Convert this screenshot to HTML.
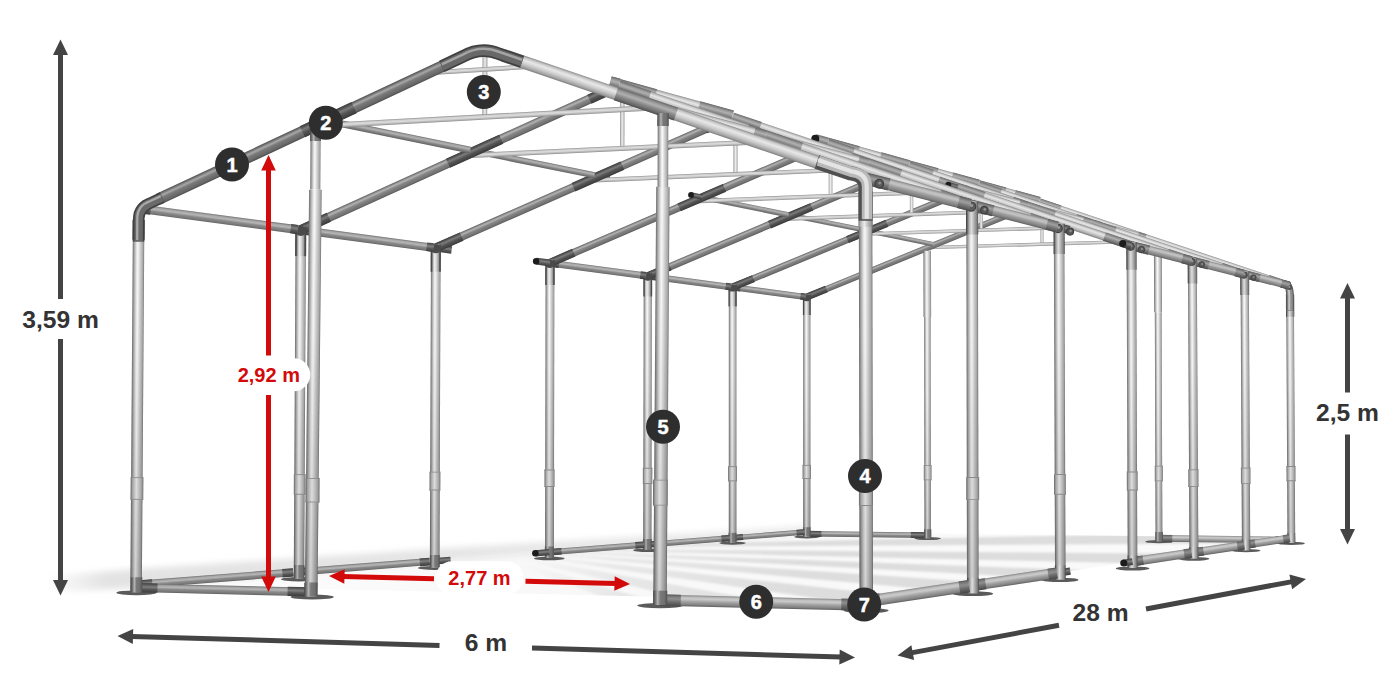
<!DOCTYPE html>
<html><head><meta charset="utf-8"><title>Tent frame dimensions</title>
<style>
html,body{margin:0;padding:0;background:#fff}
body{width:1400px;height:700px;overflow:hidden}
svg{display:block}
text{font-family:"Liberation Sans",sans-serif;font-weight:bold}
</style></head><body>
<svg width="1400" height="700" viewBox="0 0 1400 700">
<defs><linearGradient id="post" x1="0" y1="0" x2="0" y2="1"><stop offset="0" stop-color="#707070"/><stop offset="0.1" stop-color="#a8a8a8"/><stop offset="0.3" stop-color="#cacaca"/><stop offset="0.55" stop-color="#f8f8f8"/><stop offset="0.66" stop-color="#e6e6e6"/><stop offset="0.85" stop-color="#aaaaaa"/><stop offset="1" stop-color="#6c6c6c"/></linearGradient><linearGradient id="postD" x1="0" y1="0" x2="0" y2="1"><stop offset="0" stop-color="#505050"/><stop offset="0.2" stop-color="#707070"/><stop offset="0.5" stop-color="#7a7a7a"/><stop offset="0.68" stop-color="#b4b4b4"/><stop offset="0.82" stop-color="#7c7c7c"/><stop offset="1" stop-color="#454545"/></linearGradient><linearGradient id="shade" x1="0" y1="0" x2="1" y2="0"><stop offset="0" stop-color="#000" stop-opacity="0"/><stop offset="0.35" stop-color="#000" stop-opacity="0.02"/><stop offset="1" stop-color="#000" stop-opacity="0.17"/></linearGradient><linearGradient id="postT" x1="0" y1="0" x2="0" y2="1"><stop offset="0" stop-color="#404040"/><stop offset="0.14" stop-color="#585858"/><stop offset="0.22" stop-color="#9a9a9a"/><stop offset="0.42" stop-color="#d0d0d0"/><stop offset="0.6" stop-color="#f0f0f0"/><stop offset="0.76" stop-color="#bcbcbc"/><stop offset="0.84" stop-color="#707070"/><stop offset="0.9" stop-color="#4c4c4c"/><stop offset="1" stop-color="#3a3a3a"/></linearGradient><linearGradient id="postL" x1="0" y1="0" x2="0" y2="1"><stop offset="0" stop-color="#767676"/><stop offset="0.12" stop-color="#9c9c9c"/><stop offset="0.35" stop-color="#bdbdbd"/><stop offset="0.58" stop-color="#ececec"/><stop offset="0.72" stop-color="#d4d4d4"/><stop offset="0.9" stop-color="#aaaaaa"/><stop offset="1" stop-color="#686868"/></linearGradient><linearGradient id="postM" x1="0" y1="0" x2="0" y2="1"><stop offset="0" stop-color="#4c4c4c"/><stop offset="0.12" stop-color="#828282"/><stop offset="0.3" stop-color="#a6a6a6"/><stop offset="0.56" stop-color="#dedede"/><stop offset="0.7" stop-color="#bcbcbc"/><stop offset="0.84" stop-color="#888888"/><stop offset="0.93" stop-color="#4e4e4e"/><stop offset="1" stop-color="#444444"/></linearGradient><linearGradient id="rafFL" x1="0" y1="0" x2="0" y2="1"><stop offset="0" stop-color="#4e4e4e"/><stop offset="0.15" stop-color="#7c7c7c"/><stop offset="0.3" stop-color="#a8a8a8"/><stop offset="0.5" stop-color="#7a7a7a"/><stop offset="0.85" stop-color="#666666"/><stop offset="1" stop-color="#4a4a4a"/></linearGradient><linearGradient id="sleeve" x1="0" y1="0" x2="0" y2="1"><stop offset="0" stop-color="#787878"/><stop offset="0.12" stop-color="#b0b0b0"/><stop offset="0.3" stop-color="#d0d0d0"/><stop offset="0.55" stop-color="#f6f6f6"/><stop offset="0.85" stop-color="#b8b8b8"/><stop offset="1" stop-color="#707070"/></linearGradient><linearGradient id="raf" x1="0" y1="0" x2="0" y2="1"><stop offset="0" stop-color="#5e5e5e"/><stop offset="0.15" stop-color="#929292"/><stop offset="0.3" stop-color="#b2b2b2"/><stop offset="0.5" stop-color="#868686"/><stop offset="0.85" stop-color="#707070"/><stop offset="1" stop-color="#545454"/></linearGradient><linearGradient id="rafD" x1="0" y1="0" x2="0" y2="1"><stop offset="0" stop-color="#3c3c3c"/><stop offset="0.2" stop-color="#5c5c5c"/><stop offset="0.35" stop-color="#7c7c7c"/><stop offset="0.6" stop-color="#555555"/><stop offset="1" stop-color="#3a3a3a"/></linearGradient><linearGradient id="rafF" x1="0" y1="0" x2="0" y2="1"><stop offset="0" stop-color="#8c8c8c"/><stop offset="0.15" stop-color="#c8c8c8"/><stop offset="0.35" stop-color="#e8e8e8"/><stop offset="0.6" stop-color="#cccccc"/><stop offset="0.85" stop-color="#a4a4a4"/><stop offset="1" stop-color="#7c7c7c"/></linearGradient><linearGradient id="rafR" x1="0" y1="0" x2="0" y2="1"><stop offset="0" stop-color="#8c8c8c"/><stop offset="0.15" stop-color="#c4c4c4"/><stop offset="0.35" stop-color="#e6e6e6"/><stop offset="0.6" stop-color="#cacaca"/><stop offset="0.85" stop-color="#a0a0a0"/><stop offset="1" stop-color="#787878"/></linearGradient><linearGradient id="rafRD" x1="0" y1="0" x2="0" y2="1"><stop offset="0" stop-color="#686868"/><stop offset="0.2" stop-color="#989898"/><stop offset="0.38" stop-color="#b0b0b0"/><stop offset="0.6" stop-color="#8a8a8a"/><stop offset="0.85" stop-color="#6a6a6a"/><stop offset="1" stop-color="#4c4c4c"/></linearGradient><linearGradient id="eaveR" x1="0" y1="0" x2="0" y2="1"><stop offset="0" stop-color="#828282"/><stop offset="0.18" stop-color="#b8b8b8"/><stop offset="0.34" stop-color="#c4c4c4"/><stop offset="0.58" stop-color="#9c9c9c"/><stop offset="0.85" stop-color="#7e7e7e"/><stop offset="1" stop-color="#5e5e5e"/></linearGradient><linearGradient id="eaveRD" x1="0" y1="0" x2="0" y2="1"><stop offset="0" stop-color="#5a5a5a"/><stop offset="0.2" stop-color="#868686"/><stop offset="0.38" stop-color="#a0a0a0"/><stop offset="0.62" stop-color="#7a7a7a"/><stop offset="1" stop-color="#4c4c4c"/></linearGradient><linearGradient id="gbarR" x1="0" y1="0" x2="0" y2="1"><stop offset="0" stop-color="#868686"/><stop offset="0.18" stop-color="#bebebe"/><stop offset="0.34" stop-color="#cacaca"/><stop offset="0.58" stop-color="#a2a2a2"/><stop offset="0.85" stop-color="#828282"/><stop offset="1" stop-color="#5e5e5e"/></linearGradient><linearGradient id="gbarRD" x1="0" y1="0" x2="0" y2="1"><stop offset="0" stop-color="#5a5a5a"/><stop offset="0.2" stop-color="#7e7e7e"/><stop offset="0.38" stop-color="#8e8e8e"/><stop offset="0.62" stop-color="#6e6e6e"/><stop offset="1" stop-color="#484848"/></linearGradient><linearGradient id="bar" x1="0" y1="0" x2="0" y2="1"><stop offset="0" stop-color="#707070"/><stop offset="0.18" stop-color="#a4a4a4"/><stop offset="0.38" stop-color="#b6b6b6"/><stop offset="0.6" stop-color="#8a8a8a"/><stop offset="0.88" stop-color="#767676"/><stop offset="1" stop-color="#5c5c5c"/></linearGradient><linearGradient id="barD" x1="0" y1="0" x2="0" y2="1"><stop offset="0" stop-color="#404040"/><stop offset="0.25" stop-color="#686868"/><stop offset="0.4" stop-color="#808080"/><stop offset="0.65" stop-color="#585858"/><stop offset="1" stop-color="#3c3c3c"/></linearGradient><linearGradient id="pur" x1="0" y1="0" x2="0" y2="1"><stop offset="0" stop-color="#707070"/><stop offset="0.2" stop-color="#a4a4a4"/><stop offset="0.4" stop-color="#b0b0b0"/><stop offset="0.65" stop-color="#888888"/><stop offset="1" stop-color="#626262"/></linearGradient><linearGradient id="thin" x1="0" y1="0" x2="0" y2="1"><stop offset="0" stop-color="#8e8e8e"/><stop offset="0.25" stop-color="#cfcfcf"/><stop offset="0.5" stop-color="#dcdcdc"/><stop offset="0.8" stop-color="#b4b4b4"/><stop offset="1" stop-color="#8a8a8a"/></linearGradient><linearGradient id="thinV" x1="0" y1="0" x2="0" y2="1"><stop offset="0" stop-color="#8e8e8e"/><stop offset="0.25" stop-color="#cfcfcf"/><stop offset="0.5" stop-color="#ececec"/><stop offset="0.8" stop-color="#c4c4c4"/><stop offset="1" stop-color="#8a8a8a"/></linearGradient><filter id="blur" x="-5%" y="-20%" width="110%" height="140%"><feGaussianBlur stdDeviation="3"/></filter><linearGradient id="lshadow" gradientUnits="userSpaceOnUse" x1="45" y1="0" x2="820" y2="0"><stop offset="0" stop-color="#dedede" stop-opacity="0"/><stop offset="0.08" stop-color="#dedede" stop-opacity="0.85"/><stop offset="0.5" stop-color="#e0e0e0" stop-opacity="0.85"/><stop offset="1" stop-color="#e2e2e2" stop-opacity="0.7"/></linearGradient><clipPath id="floorclip"><polygon points="136.4,584.7 866,601.5 1291.4,538 806.9,531.9"/></clipPath><filter id="blur1" x="-5%" y="-5%" width="110%" height="110%"><feGaussianBlur stdDeviation="1.3"/></filter><linearGradient id="stripe" gradientUnits="userSpaceOnUse" x1="520" y1="0" x2="800" y2="0"><stop offset="0" stop-color="#e0e0e0" stop-opacity="0"/><stop offset="0.35" stop-color="#e0e0e0" stop-opacity="0.7"/><stop offset="1" stop-color="#dddddd" stop-opacity="1"/></linearGradient><linearGradient id="floor" x1="0" y1="0" x2="1" y2="0"><stop offset="0" stop-color="#fdfdfd"/><stop offset="0.35" stop-color="#f8f8f8"/><stop offset="1" stop-color="#fafafa"/></linearGradient></defs>
<rect width="1400" height="700" fill="#ffffff"/>
<g id="frame">
<polygon points="136.4,584.7 866,601.5 1291.4,538 806.9,531.9" fill="url(#floor)" opacity="1"/>
<g clip-path="url(#floorclip)"><g filter="url(#blur1)" fill="url(#stripe)"><polygon points="470,548 1400,528.5 1400,542.4"/><polygon points="470,548 1400,555.4 1400,569.4"/><polygon points="470,548 1400,581.5 1400,596.4"/><polygon points="470,548 1400,610.3 1400,631.7"/><polygon points="470,548 1400,652.2 1400,682.9"/><polygon points="470,548 1400,715.4 1400,766.5"/><polygon points="470,548 1400,817.7 1400,892.1"/></g></g>
<g filter="url(#blur)"><polygon points="48,592 136,588 300,574 435,562 549,553 648,546 807,534 807,526 648,536 549,542 435,549 300,558 136,569 48,576" fill="url(#lshadow)" opacity="1"/></g>
<ellipse cx="806.9" cy="536.9" rx="12.5" ry="1.5" fill="#5a5a5a"/>
<ellipse cx="927.7" cy="538.6" rx="13.3" ry="1.5" fill="#5a5a5a"/>
<ellipse cx="1159.1" cy="541.7" rx="13.8" ry="1.6" fill="#5a5a5a"/>
<rect x="0" y="-1.5" width="39" height="3" fill="url(#thinV)" transform="translate(1041.9 204.2) rotate(89.8)"/>
<ellipse cx="1291.4" cy="543.4" rx="13.4" ry="1.6" fill="#5a5a5a"/>
<rect x="0" y="-2.7" width="120.8" height="5.4" fill="url(#bar)" transform="translate(806.9 533.8) rotate(0.7)"/><rect x="0" y="-3" width="14.5" height="6" fill="url(#barD)" transform="translate(806.9 533.8) rotate(0.7)"/><rect x="0" y="-3" width="16.9" height="6" fill="url(#barD)" transform="translate(910.8 535.1) rotate(0.7)"/>
<rect x="0" y="-1.4" width="71.7" height="2.9" fill="url(#thin)" transform="translate(1003.9 216.5) rotate(-2)"/>
<rect x="0" y="-1.7" width="228.3" height="3.3" fill="url(#thin)" transform="translate(927.4 247.7) rotate(-1.7)"/>
<rect x="0" y="-3.3" width="132.3" height="6.6" fill="url(#gbarR)" transform="translate(1159.1 538.4) rotate(0.7)"/><rect x="0" y="-3.6" width="13.2" height="7.2" fill="url(#gbarRD)" transform="translate(1159.1 538.4) rotate(0.7)"/><rect x="0" y="-3.6" width="15.9" height="7.2" fill="url(#gbarRD)" transform="translate(1275.5 539.9) rotate(0.7)"/>
<rect x="0" y="-3.2" width="251.4" height="6.3" fill="url(#raf)" transform="translate(806.8 297.1) rotate(-22.2)"/><rect x="0" y="-3.5" width="21.2" height="6.9" fill="url(#rafD)" transform="translate(806.8 297.1) rotate(-22.2)"/><rect x="0" y="-3.5" width="21.9" height="6.9" fill="url(#rafD)" transform="translate(1019.2 210.2) rotate(-22.2)"/>
<rect x="0" y="-3.3" width="264.2" height="6.6" fill="url(#rafR)" transform="translate(1039.5 201.9) rotate(18.5)"/><rect x="0" y="-3.6" width="21.9" height="7.2" fill="url(#rafRD)" transform="translate(1039.5 201.9) rotate(18.5)"/><rect x="0" y="-3.6" width="22.7" height="7.2" fill="url(#rafRD)" transform="translate(1268.5 278.5) rotate(18.5)"/>
<rect x="0" y="-3.6" width="242.2" height="7.2" fill="url(#post)" transform="translate(806.8 294.5) rotate(90)"/><rect x="0" y="-3.6" width="242.2" height="7.2" fill="url(#shade)" transform="translate(806.8 294.5) rotate(90)"/><rect x="0" y="-3.9" width="20.5" height="7.8" fill="url(#postT)" transform="translate(806.8 294.5) rotate(90)"/>
<rect x="0" y="-3.6" width="9.4" height="7.2" fill="url(#postD)" transform="translate(806.9 527.2) rotate(90)"/>
<rect x="0" y="-3.8" width="248.5" height="7.7" fill="url(#post)" transform="translate(1290.1 294.6) rotate(89.7)"/><rect x="0" y="-3.8" width="248.5" height="7.7" fill="url(#shade)" transform="translate(1290.1 294.6) rotate(89.7)"/><rect x="0" y="-4.1" width="22.1" height="8.3" fill="url(#postM)" transform="translate(1290.1 294.6) rotate(89.7)"/>
<rect x="0" y="-3.9" width="10.1" height="7.7" fill="url(#postM)" transform="translate(1291.3 533) rotate(89.7)"/>
<ellipse cx="806.8" cy="297.7" rx="4" ry="3.5" fill="#4a4a4a"/>
<g transform="translate(806.8 464.9) rotate(90)"><rect x="0" y="-4.2" width="14.1" height="8.4" fill="url(#sleeve)"/><rect x="0" y="-4.2" width="14.1" height="8.4" fill="#000" opacity="0.1"/><rect x="0" y="-4.2" width="0.9" height="8.4" fill="#8a8a8a"/><rect x="13.2" y="-4.2" width="0.9" height="8.4" fill="#8a8a8a"/></g>
<g transform="translate(1291 466) rotate(89.7)"><rect x="0" y="-4.4" width="15.2" height="8.9" fill="url(#sleeve)"/><rect x="0" y="-4.4" width="15.2" height="8.9" fill="#000" opacity="0.1"/><rect x="0" y="-4.4" width="0.9" height="8.9" fill="#8a8a8a"/><rect x="14.3" y="-4.4" width="0.9" height="8.9" fill="#8a8a8a"/></g>
<rect x="0" y="-3.8" width="66.2" height="7.6" fill="url(#post)" transform="translate(927.2 250.7) rotate(89.9)"/>
<rect x="0" y="-3.3" width="221.3" height="6.5" fill="url(#post)" transform="translate(927.3 316.9) rotate(89.9)"/><rect x="0" y="-3.3" width="221.3" height="6.5" fill="url(#shade)" transform="translate(927.3 316.9) rotate(89.9)"/><rect x="0" y="-3.6" width="8.9" height="7.1" fill="url(#postD)" transform="translate(927.7 529.3) rotate(89.9)"/>
<rect x="0" y="-3.9" width="67.8" height="7.9" fill="url(#post)" transform="translate(1157.9 244.5) rotate(89.8)"/>
<rect x="0" y="-3.4" width="229" height="6.8" fill="url(#post)" transform="translate(1158.2 312.3) rotate(89.8)"/><rect x="0" y="-3.4" width="229" height="6.8" fill="url(#shade)" transform="translate(1158.2 312.3) rotate(89.8)"/><rect x="0" y="-3.7" width="9.2" height="7.4" fill="url(#postD)" transform="translate(1159.1 532.1) rotate(89.8)"/>
<g transform="translate(927.6 465.2) rotate(89.9)"><rect x="0" y="-3.9" width="15.1" height="7.7" fill="url(#sleeve)"/><rect x="0" y="-3.9" width="15.1" height="7.7" fill="#000" opacity="0.1"/><rect x="0" y="-3.9" width="0.9" height="7.7" fill="#8a8a8a"/><rect x="14.2" y="-3.9" width="0.9" height="7.7" fill="#8a8a8a"/></g>
<g transform="translate(1158.8 465.7) rotate(89.8)"><rect x="0" y="-4" width="15.6" height="8" fill="url(#sleeve)"/><rect x="0" y="-4" width="15.6" height="8" fill="#000" opacity="0.1"/><rect x="0" y="-4" width="0.9" height="8" fill="#8a8a8a"/><rect x="14.7" y="-4" width="0.9" height="8" fill="#8a8a8a"/></g>
<path d="M1280.6 283.4 L1285.8 284.7 Q1290 284.8 1290.1 297.1 L1290.1 310.9" fill="none" stroke="#5a5a5a" stroke-width="7.7" stroke-linejoin="round" transform="translate(0 0)"/><path d="M1280.6 283.4 L1285.8 284.7 Q1290 284.8 1290.1 297.1 L1290.1 310.9" fill="none" stroke="#8e8e8e" stroke-width="5.4" stroke-linejoin="round" transform="translate(0 0)"/><path d="M1280.6 283.4 L1285.8 284.7 Q1290 284.8 1290.1 297.1 L1290.1 310.9" fill="none" stroke="#c4c4c4" stroke-width="1.9" stroke-linejoin="round" transform="translate(-0.8 -0.8)"/>
<circle cx="1289.5" cy="287.3" r="2.6" fill="#505050"/><circle cx="1289.5" cy="287" r="0.9" fill="#9a9a9a"/>
<rect x="0" y="-3" width="73.4" height="6" fill="url(#bar)" transform="translate(732.6 287.2) rotate(7.6)"/><rect x="0" y="-3.3" width="8" height="6.6" fill="url(#barD)" transform="translate(732.6 287.2) rotate(7.6)"/><rect x="0" y="-3.3" width="5" height="6.6" fill="url(#barD)" transform="translate(800.4 296.2) rotate(7.6)"/>
<rect x="0" y="-2.6" width="71.8" height="5.3" fill="url(#bar)" transform="translate(732.5 537.8) rotate(-4.5)"/><rect x="0" y="-2.9" width="10.6" height="5.9" fill="url(#barD)" transform="translate(732.5 537.8) rotate(-4.5)"/><rect x="0" y="-2.9" width="7.5" height="5.9" fill="url(#barD)" transform="translate(796.6 532.7) rotate(-4.5)"/>
<rect x="0" y="-2.3" width="66.1" height="4.6" fill="url(#pur)" transform="translate(868.2 231) rotate(11.5)"/>
<rect x="0" y="-3.8" width="63.1" height="7.7" fill="url(#rafR)" transform="translate(978.7 184.1) rotate(15.5)"/><rect x="0" y="-4.1" width="27.5" height="8.3" fill="url(#rafRD)" transform="translate(978.7 184.1) rotate(15.5)"/><rect x="0" y="-4.1" width="25.8" height="8.3" fill="url(#rafRD)" transform="translate(1014.7 194.1) rotate(15.5)"/>
<rect x="0" y="-3.2" width="54.4" height="6.4" fill="url(#rafR)" transform="translate(1093.1 223.5) rotate(15)"/><rect x="0" y="-3.5" width="8.4" height="7" fill="url(#rafRD)" transform="translate(1093.1 223.5) rotate(15)"/><rect x="0" y="-3.5" width="7.9" height="7" fill="url(#rafRD)" transform="translate(1138 235.5) rotate(15)"/>
<rect x="0" y="-3.8" width="45.8" height="7.6" fill="url(#eaveR)" transform="translate(1244.7 274.3) rotate(14.2)"/><rect x="0" y="-4.1" width="15.5" height="8.2" fill="url(#eaveRD)" transform="translate(1244.7 274.3) rotate(14.2)"/><rect x="0" y="-4.1" width="8" height="8.2" fill="url(#eaveRD)" transform="translate(1281.4 283.6) rotate(14.2)"/>
<rect x="0" y="-3.8" width="44.1" height="7.6" fill="url(#gbarR)" transform="translate(1246.1 544.8) rotate(-8.5)"/><rect x="0" y="-4.1" width="9.2" height="8.2" fill="url(#gbarRD)" transform="translate(1246.1 544.8) rotate(-8.5)"/><rect x="0" y="-4.1" width="6.4" height="8.2" fill="url(#gbarRD)" transform="translate(1283.3 539.2) rotate(-8.5)"/>
<ellipse cx="732.5" cy="543.1" rx="13.3" ry="1.6" fill="#5a5a5a"/>
<rect x="0" y="-1.6" width="41.7" height="3.2" fill="url(#thinV)" transform="translate(981.2 187.6) rotate(89.9)"/>
<ellipse cx="1246.1" cy="550.6" rx="14.4" ry="1.7" fill="#5a5a5a"/>
<rect x="0" y="-1.8" width="242" height="3.6" fill="url(#thin)" transform="translate(860 234.3) rotate(-1.9)"/>
<rect x="0" y="-3.4" width="266.4" height="6.8" fill="url(#raf)" transform="translate(732.6 287.2) rotate(-22.5)"/><rect x="0" y="-3.7" width="22.6" height="7.4" fill="url(#rafD)" transform="translate(732.6 287.2) rotate(-22.5)"/><rect x="0" y="-3.7" width="23.4" height="7.4" fill="url(#rafD)" transform="translate(957.1 194.1) rotate(-22.5)"/><rect x="0" y="-3.7" width="42.8" height="7.4" fill="url(#rafD)" transform="translate(847.4 239.6) rotate(-22.5)"/>
<rect x="0" y="-3.5" width="280.6" height="7" fill="url(#rafR)" transform="translate(978.7 185.1) rotate(18.5)"/><rect x="0" y="-3.8" width="23.4" height="7.6" fill="url(#rafRD)" transform="translate(978.7 185.1) rotate(18.5)"/><rect x="0" y="-3.8" width="24.4" height="7.6" fill="url(#rafRD)" transform="translate(1221.6 266.6) rotate(18.5)"/><rect x="0" y="-3.8" width="41.3" height="7.6" fill="url(#rafRD)" transform="translate(1076.2 217.8) rotate(18.5)"/>
<rect x="0" y="-3.8" width="258.3" height="7.6" fill="url(#post)" transform="translate(732.6 284.5) rotate(90)"/><rect x="0" y="-3.8" width="258.3" height="7.6" fill="url(#shade)" transform="translate(732.6 284.5) rotate(90)"/><rect x="0" y="-4.1" width="21.9" height="8.2" fill="url(#postT)" transform="translate(732.6 284.5) rotate(90)"/>
<rect x="0" y="-3.8" width="10" height="7.7" fill="url(#postD)" transform="translate(732.5 532.8) rotate(90)"/>
<rect x="0" y="-4.1" width="278.9" height="8.3" fill="url(#post)" transform="translate(1244.7 271.4) rotate(89.7)"/><rect x="0" y="-4.1" width="278.9" height="8.3" fill="url(#shade)" transform="translate(1244.7 271.4) rotate(89.7)"/><rect x="0" y="-4.4" width="23.6" height="8.9" fill="url(#postM)" transform="translate(1244.7 271.4) rotate(89.7)"/>
<rect x="0" y="-4.1" width="10.8" height="8.3" fill="url(#postM)" transform="translate(1246 539.4) rotate(89.7)"/>
<ellipse cx="732.6" cy="287.9" rx="4.2" ry="3.7" fill="#4a4a4a"/>
<g transform="translate(732.5 466.2) rotate(90)"><rect x="0" y="-4.4" width="15.1" height="8.8" fill="url(#sleeve)"/><rect x="0" y="-4.4" width="15.1" height="8.8" fill="#000" opacity="0.1"/><rect x="0" y="-4.4" width="0.9" height="8.8" fill="#8a8a8a"/><rect x="14.2" y="-4.4" width="0.9" height="8.8" fill="#8a8a8a"/></g>
<g transform="translate(1245.7 467.6) rotate(89.7)"><rect x="0" y="-4.7" width="16.2" height="9.5" fill="url(#sleeve)"/><rect x="0" y="-4.7" width="16.2" height="9.5" fill="#000" opacity="0.1"/><rect x="0" y="-4.7" width="0.9" height="9.5" fill="#8a8a8a"/><rect x="15.3" y="-4.7" width="0.9" height="9.5" fill="#8a8a8a"/></g>
<circle cx="1244" cy="275" r="3.3" fill="#5c5c5c" stroke="#404040" stroke-width="0.9"/><circle cx="1244.4" cy="274.3" r="1.1" fill="#9a9a9a"/>
<circle cx="1253.4" cy="277.6" r="2.7" fill="#585858" stroke="#404040" stroke-width="0.9"/><circle cx="1253.8" cy="277.1" r="0.9" fill="#909090"/>
<rect x="0" y="-3.2" width="83.9" height="6.4" fill="url(#bar)" transform="translate(647.8 276) rotate(7.6)"/><rect x="0" y="-3.5" width="8.5" height="7" fill="url(#barD)" transform="translate(647.8 276) rotate(7.6)"/><rect x="0" y="-3.5" width="5.3" height="7" fill="url(#barD)" transform="translate(725.7 286.3) rotate(7.6)"/>
<rect x="0" y="-2.8" width="82.1" height="5.7" fill="url(#bar)" transform="translate(647.5 544.5) rotate(-4.5)"/><rect x="0" y="-3.1" width="11.4" height="6.3" fill="url(#barD)" transform="translate(647.5 544.5) rotate(-4.5)"/><rect x="0" y="-3.1" width="8" height="6.3" fill="url(#barD)" transform="translate(721.4 538.7) rotate(-4.5)"/>
<rect x="0" y="-2.5" width="75.8" height="4.9" fill="url(#pur)" transform="translate(791.4 215.4) rotate(11.5)"/>
<rect x="0" y="-4.1" width="72.5" height="8.2" fill="url(#rafR)" transform="translate(908.8 164.7) rotate(15.5)"/><rect x="0" y="-4.4" width="29.6" height="8.8" fill="url(#rafRD)" transform="translate(908.8 164.7) rotate(15.5)"/><rect x="0" y="-4.4" width="27.5" height="8.8" fill="url(#rafRD)" transform="translate(952.1 176.7) rotate(15.5)"/>
<rect x="0" y="-3.5" width="62.6" height="6.9" fill="url(#rafR)" transform="translate(1030.6 206.8) rotate(15)"/><rect x="0" y="-3.8" width="9" height="7.5" fill="url(#rafRD)" transform="translate(1030.6 206.8) rotate(15)"/><rect x="0" y="-3.8" width="8.4" height="7.5" fill="url(#rafRD)" transform="translate(1083 220.8) rotate(15)"/>
<rect x="0" y="-4.1" width="52.9" height="8.2" fill="url(#eaveR)" transform="translate(1192.5 261.1) rotate(14.2)"/><rect x="0" y="-4.4" width="16.7" height="8.8" fill="url(#eaveRD)" transform="translate(1192.5 261.1) rotate(14.2)"/><rect x="0" y="-4.4" width="8.6" height="8.8" fill="url(#eaveRD)" transform="translate(1235.4 272) rotate(14.2)"/>
<rect x="0" y="-4.1" width="50.9" height="8.2" fill="url(#gbarR)" transform="translate(1193.7 552.6) rotate(-8.5)"/><rect x="0" y="-4.4" width="9.9" height="8.8" fill="url(#gbarRD)" transform="translate(1193.7 552.6) rotate(-8.5)"/><rect x="0" y="-4.4" width="6.9" height="8.8" fill="url(#gbarRD)" transform="translate(1237.3 546.1) rotate(-8.5)"/>
<ellipse cx="647.5" cy="550.2" rx="14.3" ry="1.7" fill="#5a5a5a"/>
<rect x="0" y="-1.7" width="44.8" height="3.4" fill="url(#thinV)" transform="translate(911.5 168.5) rotate(89.9)"/>
<ellipse cx="1193.8" cy="558.8" rx="15.5" ry="1.9" fill="#5a5a5a"/>
<rect x="0" y="-1.9" width="257.3" height="3.8" fill="url(#thin)" transform="translate(782.8 219) rotate(-2)"/>
<rect x="0" y="-3.6" width="283.3" height="7.3" fill="url(#raf)" transform="translate(647.8 276) rotate(-22.9)"/><rect x="0" y="-3.9" width="24.2" height="7.9" fill="url(#rafD)" transform="translate(647.8 276) rotate(-22.9)"/><rect x="0" y="-3.9" width="25.1" height="7.9" fill="url(#rafD)" transform="translate(885.6 175.6) rotate(-22.9)"/><rect x="0" y="-3.9" width="45.9" height="7.9" fill="url(#rafD)" transform="translate(769.4 224.7) rotate(-22.9)"/>
<rect x="0" y="-3.8" width="299.2" height="7.6" fill="url(#rafR)" transform="translate(908.8 165.8) rotate(18.6)"/><rect x="0" y="-4.1" width="25.1" height="8.2" fill="url(#rafRD)" transform="translate(908.8 165.8) rotate(18.6)"/><rect x="0" y="-4.1" width="26.3" height="8.2" fill="url(#rafRD)" transform="translate(1167.6 252.8) rotate(18.6)"/><rect x="0" y="-4.1" width="44.4" height="8.2" fill="url(#rafRD)" transform="translate(1012.6 200.7) rotate(18.6)"/>
<rect x="0" y="-4.1" width="276.8" height="8.2" fill="url(#post)" transform="translate(647.8 273) rotate(90.1)"/><rect x="0" y="-4.1" width="276.8" height="8.2" fill="url(#shade)" transform="translate(647.8 273) rotate(90.1)"/><rect x="0" y="-4.4" width="23.5" height="8.8" fill="url(#postT)" transform="translate(647.8 273) rotate(90.1)"/>
<rect x="0" y="-4.1" width="10.8" height="8.2" fill="url(#postD)" transform="translate(647.5 539.1) rotate(90.1)"/>
<rect x="0" y="-4.4" width="300.5" height="8.9" fill="url(#post)" transform="translate(1192.4 257.9) rotate(89.7)"/><rect x="0" y="-4.4" width="300.5" height="8.9" fill="url(#shade)" transform="translate(1192.4 257.9) rotate(89.7)"/><rect x="0" y="-4.7" width="25.5" height="9.5" fill="url(#postM)" transform="translate(1192.4 257.9) rotate(89.7)"/>
<rect x="0" y="-4.5" width="11.7" height="8.9" fill="url(#postM)" transform="translate(1193.7 546.8) rotate(89.7)"/>
<ellipse cx="647.8" cy="276.7" rx="4.6" ry="4" fill="#4a4a4a"/>
<g transform="translate(647.6 467.8) rotate(90.1)"><rect x="0" y="-4.7" width="16.1" height="9.4" fill="url(#sleeve)"/><rect x="0" y="-4.7" width="16.1" height="9.4" fill="#000" opacity="0.1"/><rect x="0" y="-4.7" width="0.9" height="9.4" fill="#8a8a8a"/><rect x="15.2" y="-4.7" width="0.9" height="9.4" fill="#8a8a8a"/></g>
<g transform="translate(1193.4 469.4) rotate(89.7)"><rect x="0" y="-5" width="17.5" height="10.1" fill="url(#sleeve)"/><rect x="0" y="-5" width="17.5" height="10.1" fill="#000" opacity="0.1"/><rect x="0" y="-5" width="0.9" height="10.1" fill="#8a8a8a"/><rect x="16.6" y="-5" width="0.9" height="10.1" fill="#8a8a8a"/></g>
<circle cx="1191.7" cy="261.9" r="3.6" fill="#5c5c5c" stroke="#404040" stroke-width="0.9"/><circle cx="1192.1" cy="261.1" r="1.2" fill="#9a9a9a"/>
<circle cx="1201.8" cy="264.6" r="2.9" fill="#585858" stroke="#404040" stroke-width="0.9"/><circle cx="1202.2" cy="264.1" r="1" fill="#909090"/>
<rect x="0" y="-3.4" width="96.9" height="6.9" fill="url(#bar)" transform="translate(549.9 263) rotate(7.6)"/><rect x="0" y="-3.7" width="9.2" height="7.5" fill="url(#barD)" transform="translate(549.9 263) rotate(7.6)"/><rect x="0" y="-3.7" width="5.7" height="7.5" fill="url(#barD)" transform="translate(640.3 275) rotate(7.6)"/>
<rect x="0" y="-3" width="94.8" height="6.1" fill="url(#bar)" transform="translate(549.3 552.2) rotate(-4.5)"/><rect x="0" y="-3.3" width="12.3" height="6.7" fill="url(#barD)" transform="translate(549.3 552.2) rotate(-4.5)"/><rect x="0" y="-3.3" width="8.6" height="6.7" fill="url(#barD)" transform="translate(635.3 545.4) rotate(-4.5)"/>
<rect x="0" y="-2.6" width="87.7" height="5.3" fill="url(#pur)" transform="translate(702.6 197.3) rotate(11.5)"/>
<rect x="0" y="-4.4" width="84.2" height="8.8" fill="url(#rafR)" transform="translate(827.7 142.3) rotate(15.5)"/><rect x="0" y="-4.7" width="32" height="9.4" fill="url(#rafRD)" transform="translate(827.7 142.3) rotate(15.5)"/><rect x="0" y="-4.7" width="29.6" height="9.4" fill="url(#rafRD)" transform="translate(880.3 156.8) rotate(15.5)"/>
<rect x="0" y="-3.7" width="72.9" height="7.5" fill="url(#rafR)" transform="translate(957.9 187.3) rotate(15)"/><rect x="0" y="-4" width="9.8" height="8.1" fill="url(#rafRD)" transform="translate(957.9 187.3) rotate(15)"/><rect x="0" y="-4" width="9.1" height="8.1" fill="url(#rafRD)" transform="translate(1019.5 203.8) rotate(15)"/>
<rect x="0" y="-4.4" width="61.8" height="8.8" fill="url(#eaveR)" transform="translate(1131.4 245.7) rotate(14.2)"/><rect x="0" y="-4.7" width="18.1" height="9.4" fill="url(#eaveRD)" transform="translate(1131.4 245.7) rotate(14.2)"/><rect x="0" y="-4.7" width="9.3" height="9.4" fill="url(#eaveRD)" transform="translate(1182.3 258.6) rotate(14.2)"/>
<rect x="0" y="-4.4" width="59.6" height="8.9" fill="url(#gbarR)" transform="translate(1132.6 561.7) rotate(-8.5)"/><rect x="0" y="-4.7" width="10.7" height="9.5" fill="url(#gbarRD)" transform="translate(1132.6 561.7) rotate(-8.5)"/><rect x="0" y="-4.7" width="7.5" height="9.5" fill="url(#gbarRD)" transform="translate(1184.1 554) rotate(-8.5)"/>
<ellipse cx="549.3" cy="558.4" rx="15.4" ry="1.8" fill="#5a5a5a"/>
<rect x="0" y="-1.8" width="48.4" height="3.7" fill="url(#thinV)" transform="translate(830.6 146.3) rotate(90)"/>
<ellipse cx="1132.6" cy="568.5" rx="16.8" ry="2" fill="#5a5a5a"/>
<rect x="0" y="-2.1" width="274.6" height="4.2" fill="url(#thin)" transform="translate(693.4 201.3) rotate(-2.2)"/>
<rect x="0" y="-3.9" width="302.4" height="7.8" fill="url(#raf)" transform="translate(549.9 263) rotate(-23.3)"/><rect x="0" y="-4.2" width="26" height="8.4" fill="url(#rafD)" transform="translate(549.9 263) rotate(-23.3)"/><rect x="0" y="-4.2" width="27.2" height="8.4" fill="url(#rafD)" transform="translate(802.7 154.2) rotate(-23.3)"/><rect x="0" y="-4.2" width="49.4" height="8.4" fill="url(#rafD)" transform="translate(679.1 207.4) rotate(-23.3)"/>
<rect x="0" y="-4.1" width="320.4" height="8.2" fill="url(#rafR)" transform="translate(827.7 143.5) rotate(18.6)"/><rect x="0" y="-4.4" width="27.2" height="8.8" fill="url(#rafRD)" transform="translate(827.7 143.5) rotate(18.6)"/><rect x="0" y="-4.4" width="28.5" height="8.8" fill="url(#rafRD)" transform="translate(1104.4 236.6) rotate(18.6)"/><rect x="0" y="-4.4" width="47.9" height="8.8" fill="url(#rafRD)" transform="translate(938.6 180.8) rotate(18.6)"/>
<rect x="0" y="-4.4" width="298.2" height="8.8" fill="url(#post)" transform="translate(550 259.8) rotate(90.1)"/><rect x="0" y="-4.4" width="298.2" height="8.8" fill="url(#shade)" transform="translate(550 259.8) rotate(90.1)"/><rect x="0" y="-4.7" width="25.3" height="9.4" fill="url(#postT)" transform="translate(550 259.8) rotate(90.1)"/>
<rect x="0" y="-4.4" width="11.6" height="8.8" fill="url(#postD)" transform="translate(549.3 546.4) rotate(90.1)"/>
<rect x="0" y="-4.8" width="325.8" height="9.6" fill="url(#post)" transform="translate(1131.4 242.2) rotate(89.8)"/><rect x="0" y="-4.8" width="325.8" height="9.6" fill="url(#shade)" transform="translate(1131.4 242.2) rotate(89.8)"/><rect x="0" y="-5.1" width="27.6" height="10.2" fill="url(#postM)" transform="translate(1131.4 242.2) rotate(89.8)"/>
<rect x="0" y="-4.8" width="12.7" height="9.7" fill="url(#postM)" transform="translate(1132.5 555.4) rotate(89.8)"/>
<ellipse cx="549.9" cy="263.8" rx="4.9" ry="4.3" fill="#4a4a4a"/>
<g transform="translate(549.5 469.6) rotate(90.1)"><rect x="0" y="-5" width="17.4" height="10" fill="url(#sleeve)"/><rect x="0" y="-5" width="17.4" height="10" fill="#000" opacity="0.1"/><rect x="0" y="-5" width="0.9" height="10" fill="#8a8a8a"/><rect x="16.5" y="-5" width="0.9" height="10" fill="#8a8a8a"/></g>
<g transform="translate(1132.2 471.5) rotate(89.8)"><rect x="0" y="-5.4" width="19" height="10.8" fill="url(#sleeve)"/><rect x="0" y="-5.4" width="19" height="10.8" fill="#000" opacity="0.1"/><rect x="0" y="-5.4" width="0.9" height="10.8" fill="#8a8a8a"/><rect x="18.1" y="-5.4" width="0.9" height="10.8" fill="#8a8a8a"/></g>
<circle cx="1130.5" cy="246.5" r="3.9" fill="#5c5c5c" stroke="#404040" stroke-width="1"/><circle cx="1131" cy="245.7" r="1.3" fill="#9a9a9a"/>
<circle cx="1141.5" cy="249.5" r="3.2" fill="#585858" stroke="#404040" stroke-width="1"/><circle cx="1141.9" cy="248.9" r="1.1" fill="#909090"/>
<rect x="0" y="-3.5" width="14" height="6.9" fill="url(#barD)" transform="translate(536.1 261.2) rotate(7.6)"/>
<rect x="0" y="-3.1" width="13.9" height="6.2" fill="url(#barD)" transform="translate(535.4 553.3) rotate(-4.5)"/>
<rect x="0" y="-2.6" width="11.8" height="5.1" fill="url(#barD)" transform="translate(691 194.9) rotate(11.5)"/>
<circle cx="536.1" cy="261.2" r="3.2" fill="#1c1c1c"/>
<circle cx="535.4" cy="553.3" r="3.3" fill="#1c1c1c"/>
<rect x="0" y="-4.6" width="12.9" height="9.2" fill="url(#rafRD)" transform="translate(815.3 138.8) rotate(15.5)"/>
<circle cx="691" cy="194.9" r="2.9" fill="#1c1c1c"/>
<rect x="0" y="-2.7" width="9.9" height="5.3" fill="url(#barD)" transform="translate(948.3 184.7) rotate(15)"/>
<rect x="0" y="-3.7" width="16" height="7.4" fill="url(#barD)" transform="translate(435.8 247.9) rotate(7.6)"/>
<rect x="0" y="-3.3" width="16" height="6.6" fill="url(#barD)" transform="translate(434.7 561.2) rotate(-4.5)"/>
<circle cx="815.3" cy="138.8" r="4" fill="#1c1c1c"/>
<rect x="0" y="-3.8" width="9" height="7.6" fill="url(#barD)" transform="translate(1122.7 243.5) rotate(14.2)"/>
<rect x="0" y="-3.4" width="8.8" height="6.8" fill="url(#barD)" transform="translate(1123.8 563) rotate(-8.5)"/>
<rect x="0" y="-2.8" width="11.4" height="5.5" fill="url(#barD)" transform="translate(598.5 176.2) rotate(11.5)"/>
<circle cx="948.3" cy="184.7" r="3" fill="#1c1c1c"/>
<circle cx="1122.7" cy="243.5" r="3.6" fill="#1c1c1c"/>
<circle cx="1123.8" cy="563" r="3.6" fill="#1c1c1c"/>
<rect x="0" y="-2.9" width="9.6" height="5.7" fill="url(#barD)" transform="translate(872.1 164.3) rotate(15)"/>
<rect x="0" y="-4.1" width="10.5" height="8.2" fill="url(#barD)" transform="translate(1059.1 227.4) rotate(14.2)"/>
<rect x="0" y="-3.6" width="10.3" height="7.3" fill="url(#barD)" transform="translate(1060.1 572.6) rotate(-8.5)"/>
<ellipse cx="434.7" cy="567.9" rx="16.7" ry="2" fill="#5a5a5a"/>
<rect x="0" y="-2" width="52.6" height="4" fill="url(#thinV)" transform="translate(735.5 120.3) rotate(90)"/>
<ellipse cx="1060.1" cy="579.9" rx="18.3" ry="2.2" fill="#5a5a5a"/>
<rect x="0" y="-2.3" width="294.3" height="4.5" fill="url(#thin)" transform="translate(588.7 180.5) rotate(-2.4)"/>
<rect x="0" y="-4.2" width="324.2" height="8.5" fill="url(#raf)" transform="translate(435.8 247.9) rotate(-23.8)"/><rect x="0" y="-4.5" width="28.2" height="9.1" fill="url(#rafD)" transform="translate(435.8 247.9) rotate(-23.8)"/><rect x="0" y="-4.5" width="29.5" height="9.1" fill="url(#rafD)" transform="translate(705.4 129.1) rotate(-23.8)"/><rect x="0" y="-4.5" width="53.5" height="9.1" fill="url(#rafD)" transform="translate(573.4 187.2) rotate(-23.8)"/>
<rect x="0" y="-4.5" width="344.7" height="8.9" fill="url(#rafR)" transform="translate(732.4 117.2) rotate(18.7)"/><rect x="0" y="-4.8" width="29.5" height="9.5" fill="url(#rafRD)" transform="translate(732.4 117.2) rotate(18.7)"/><rect x="0" y="-4.8" width="31.1" height="9.5" fill="url(#rafRD)" transform="translate(1029.6 217.5) rotate(18.7)"/><rect x="0" y="-4.8" width="52.1" height="9.5" fill="url(#rafRD)" transform="translate(851.4 157.3) rotate(18.7)"/>
<rect x="0" y="-4.8" width="323.1" height="9.6" fill="url(#post)" transform="translate(435.8 244.4) rotate(90.2)"/><rect x="0" y="-4.8" width="323.1" height="9.6" fill="url(#shade)" transform="translate(435.8 244.4) rotate(90.2)"/><rect x="0" y="-5.1" width="27.4" height="10.2" fill="url(#postT)" transform="translate(435.8 244.4) rotate(90.2)"/>
<rect x="0" y="-4.8" width="12.6" height="9.6" fill="url(#postD)" transform="translate(434.8 554.9) rotate(90.2)"/>
<rect x="0" y="-5.3" width="355.8" height="10.5" fill="url(#post)" transform="translate(1059 223.7) rotate(89.8)"/><rect x="0" y="-5.3" width="355.8" height="10.5" fill="url(#shade)" transform="translate(1059 223.7) rotate(89.8)"/><rect x="0" y="-5.6" width="30.2" height="11.1" fill="url(#postM)" transform="translate(1059 223.7) rotate(89.8)"/>
<rect x="0" y="-5.3" width="13.9" height="10.5" fill="url(#postM)" transform="translate(1060.1 565.6) rotate(89.8)"/>
<ellipse cx="435.8" cy="248.7" rx="5.3" ry="4.6" fill="#4a4a4a"/>
<g transform="translate(435 471.7) rotate(90.2)"><rect x="0" y="-5.4" width="18.8" height="10.8" fill="url(#sleeve)"/><rect x="0" y="-5.4" width="18.8" height="10.8" fill="#000" opacity="0.1"/><rect x="0" y="-5.4" width="0.9" height="10.8" fill="#8a8a8a"/><rect x="17.9" y="-5.4" width="0.9" height="10.8" fill="#8a8a8a"/></g>
<g transform="translate(1059.8 474) rotate(89.8)"><rect x="0" y="-5.9" width="20.7" height="11.7" fill="url(#sleeve)"/><rect x="0" y="-5.9" width="20.7" height="11.7" fill="#000" opacity="0.1"/><rect x="0" y="-5.9" width="0.9" height="11.7" fill="#8a8a8a"/><rect x="19.8" y="-5.9" width="0.9" height="11.7" fill="#8a8a8a"/></g>
<circle cx="1058.1" cy="228.4" r="4.2" fill="#5c5c5c" stroke="#404040" stroke-width="1.1"/><circle cx="1058.6" cy="227.4" r="1.5" fill="#9a9a9a"/>
<circle cx="1070.1" cy="231.6" r="3.5" fill="#585858" stroke="#404040" stroke-width="1.1"/><circle cx="1070.6" cy="231" r="1.2" fill="#909090"/>
<rect x="0" y="-4" width="133.6" height="8.1" fill="url(#bar)" transform="translate(300.8 230) rotate(7.6)"/><rect x="0" y="-4.3" width="10.9" height="8.7" fill="url(#barD)" transform="translate(300.8 230) rotate(7.6)"/><rect x="0" y="-4.3" width="6.7" height="8.7" fill="url(#barD)" transform="translate(426.7 246.7) rotate(7.6)"/>
<rect x="0" y="-3.6" width="130.9" height="7.1" fill="url(#bar)" transform="translate(299.2 571.9) rotate(-4.5)"/><rect x="0" y="-3.9" width="14.5" height="7.7" fill="url(#barD)" transform="translate(299.2 571.9) rotate(-4.5)"/><rect x="0" y="-3.9" width="10" height="7.7" fill="url(#barD)" transform="translate(419.8 562.4) rotate(-4.5)"/>
<rect x="0" y="-3.1" width="122" height="6.2" fill="url(#pur)" transform="translate(475 151) rotate(11.5)"/>
<rect x="0" y="-5.2" width="117.8" height="10.4" fill="url(#rafR)" transform="translate(618.9 84.4) rotate(15.5)"/><rect x="0" y="-5.5" width="38.1" height="11" fill="url(#rafRD)" transform="translate(618.9 84.4) rotate(15.5)"/><rect x="0" y="-5.5" width="34.8" height="11" fill="url(#rafRD)" transform="translate(698.9 106.6) rotate(15.5)"/>
<rect x="0" y="-4.4" width="102.8" height="8.8" fill="url(#rafR)" transform="translate(769.5 136.9) rotate(15)"/><rect x="0" y="-4.7" width="11.7" height="9.4" fill="url(#rafRD)" transform="translate(769.5 136.9) rotate(15)"/><rect x="0" y="-4.7" width="10.7" height="9.4" fill="url(#rafRD)" transform="translate(858.5 160.7) rotate(15)"/>
<rect x="0" y="-5.3" width="88" height="10.5" fill="url(#eaveR)" transform="translate(972.1 205.5) rotate(14.2)"/><rect x="0" y="-5.6" width="21.7" height="11.1" fill="url(#eaveRD)" transform="translate(972.1 205.5) rotate(14.2)"/><rect x="0" y="-5.6" width="11" height="11.1" fill="url(#eaveRD)" transform="translate(1046.8 224.4) rotate(14.2)"/>
<rect x="0" y="-5.3" width="84.9" height="10.6" fill="url(#gbarR)" transform="translate(972.9 585.6) rotate(-8.5)"/><rect x="0" y="-5.6" width="12.9" height="11.2" fill="url(#gbarRD)" transform="translate(972.9 585.6) rotate(-8.5)"/><rect x="0" y="-5.6" width="8.8" height="11.2" fill="url(#gbarRD)" transform="translate(1048.2 574.3) rotate(-8.5)"/>
<ellipse cx="299.2" cy="579.2" rx="18.2" ry="2.2" fill="#5a5a5a"/>
<rect x="0" y="-2.2" width="57.7" height="4.4" fill="url(#thinV)" transform="translate(622.3 89.2) rotate(90.1)"/>
<ellipse cx="972.9" cy="593.7" rx="20.2" ry="2.4" fill="#5a5a5a"/>
<rect x="0" y="-2.5" width="317" height="5" fill="url(#thin)" transform="translate(464.5 155.8) rotate(-2.7)"/>
<rect x="0" y="-4.6" width="349.3" height="9.3" fill="url(#raf)" transform="translate(300.8 230) rotate(-24.4)"/><rect x="0" y="-4.9" width="30.8" height="9.9" fill="url(#rafD)" transform="translate(300.8 230) rotate(-24.4)"/><rect x="0" y="-4.9" width="32.4" height="9.9" fill="url(#rafD)" transform="translate(589.4 99.2) rotate(-24.4)"/><rect x="0" y="-4.9" width="58.4" height="9.9" fill="url(#rafD)" transform="translate(448 163.3) rotate(-24.4)"/>
<rect x="0" y="-4.9" width="372.9" height="9.8" fill="url(#rafR)" transform="translate(618.9 85.8) rotate(18.7)"/><rect x="0" y="-5.2" width="32.4" height="10.4" fill="url(#rafRD)" transform="translate(618.9 85.8) rotate(18.7)"/><rect x="0" y="-5.2" width="34.2" height="10.4" fill="url(#rafRD)" transform="translate(939.7 194.5) rotate(18.7)"/><rect x="0" y="-5.2" width="57.1" height="10.4" fill="url(#rafRD)" transform="translate(747.3 129.3) rotate(18.7)"/>
<rect x="0" y="-5.2" width="352.5" height="10.4" fill="url(#post)" transform="translate(300.8 226.2) rotate(90.3)"/><rect x="0" y="-5.2" width="352.5" height="10.4" fill="url(#shade)" transform="translate(300.8 226.2) rotate(90.3)"/><rect x="0" y="-5.5" width="29.9" height="11" fill="url(#postT)" transform="translate(300.8 226.2) rotate(90.3)"/>
<rect x="0" y="-5.2" width="13.7" height="10.4" fill="url(#postD)" transform="translate(299.2 565) rotate(90.3)"/>
<rect x="0" y="-5.8" width="391.9" height="11.6" fill="url(#post)" transform="translate(972.1 201.3) rotate(89.9)"/><rect x="0" y="-5.8" width="391.9" height="11.6" fill="url(#shade)" transform="translate(972.1 201.3) rotate(89.9)"/><rect x="0" y="-6.1" width="33.2" height="12.2" fill="url(#postM)" transform="translate(972.1 201.3) rotate(89.9)"/>
<rect x="0" y="-5.8" width="15.3" height="11.6" fill="url(#postM)" transform="translate(972.9 577.9) rotate(89.9)"/>
<ellipse cx="300.8" cy="230.9" rx="5.8" ry="5.1" fill="#4a4a4a"/>
<g transform="translate(299.7 474.2) rotate(90.3)"><rect x="0" y="-5.8" width="20.5" height="11.6" fill="url(#sleeve)"/><rect x="0" y="-5.8" width="20.5" height="11.6" fill="#000" opacity="0.1"/><rect x="0" y="-5.8" width="0.9" height="11.6" fill="#8a8a8a"/><rect x="19.6" y="-5.8" width="0.9" height="11.6" fill="#8a8a8a"/></g>
<g transform="translate(972.7 477) rotate(89.9)"><rect x="0" y="-6.4" width="22.8" height="12.8" fill="url(#sleeve)"/><rect x="0" y="-6.4" width="22.8" height="12.8" fill="#000" opacity="0.1"/><rect x="0" y="-6.4" width="0.9" height="12.8" fill="#8a8a8a"/><rect x="21.9" y="-6.4" width="0.9" height="12.8" fill="#8a8a8a"/></g>
<circle cx="971.1" cy="206.5" r="4.6" fill="#5c5c5c" stroke="#404040" stroke-width="1.2"/><circle cx="971.6" cy="205.5" r="1.6" fill="#9a9a9a"/>
<circle cx="984.3" cy="210.1" r="3.8" fill="#585858" stroke="#404040" stroke-width="1.2"/><circle cx="984.8" cy="209.4" r="1.3" fill="#909090"/>
<rect x="0" y="-4.4" width="160.4" height="8.8" fill="url(#bar)" transform="translate(138.8 208.5) rotate(7.6)"/><rect x="0" y="-4.7" width="12" height="9.4" fill="url(#barD)" transform="translate(138.8 208.5) rotate(7.6)"/><rect x="0" y="-4.7" width="7.3" height="9.4" fill="url(#barD)" transform="translate(290.7 228.6) rotate(7.6)"/>
<rect x="0" y="-5.5" width="9.1" height="11" fill="url(#rafR)" transform="translate(610.2 82) rotate(15.5)"/><rect x="0" y="-5.8" width="9.1" height="11.6" fill="url(#rafRD)" transform="translate(610.2 82) rotate(15.5)"/><rect x="0" y="-5.8" width="9.1" height="11.6" fill="url(#rafRD)" transform="translate(610.2 82) rotate(15.5)"/>
<rect x="0" y="-3.9" width="157.3" height="7.8" fill="url(#bar)" transform="translate(136.4 584.7) rotate(-4.5)"/><rect x="0" y="-4.2" width="16" height="8.4" fill="url(#barD)" transform="translate(136.4 584.7) rotate(-4.5)"/><rect x="0" y="-4.2" width="10.9" height="8.4" fill="url(#barD)" transform="translate(282.4 573.2) rotate(-4.5)"/>
<rect x="0" y="-3.4" width="147.2" height="6.8" fill="url(#pur)" transform="translate(326 120.7) rotate(11.5)"/>
<rect x="0" y="-4.9" width="125.2" height="9.8" fill="url(#rafR)" transform="translate(644.6 103.4) rotate(15)"/><rect x="0" y="-5.2" width="13" height="10.4" fill="url(#rafRD)" transform="translate(644.6 103.4) rotate(15)"/><rect x="0" y="-5.2" width="11.7" height="10.4" fill="url(#rafRD)" transform="translate(754.2 132.8) rotate(15)"/>
<rect x="0" y="-5.8" width="107.9" height="11.7" fill="url(#eaveR)" transform="translate(865.6 178.6) rotate(14.2)"/><rect x="0" y="-6.1" width="24.2" height="12.3" fill="url(#eaveRD)" transform="translate(865.6 178.6) rotate(14.2)"/><rect x="0" y="-6.1" width="12.1" height="12.3" fill="url(#eaveRD)" transform="translate(958.5 202) rotate(14.2)"/>
<rect x="0" y="-5.9" width="104.2" height="11.7" fill="url(#gbarR)" transform="translate(866 601.5) rotate(-8.5)"/><rect x="0" y="-6.2" width="14.4" height="12.3" fill="url(#gbarRD)" transform="translate(866 601.5) rotate(-8.5)"/><rect x="0" y="-6.2" width="9.7" height="12.3" fill="url(#gbarRD)" transform="translate(959.4 587.6) rotate(-8.5)"/>
<ellipse cx="136.4" cy="592.8" rx="20" ry="2.4" fill="#5a5a5a"/>
<ellipse cx="312.2" cy="597.1" rx="21.6" ry="2.5" fill="#5a5a5a"/>
<ellipse cx="660.2" cy="605.6" rx="22.9" ry="2.6" fill="#5a5a5a"/>
<rect x="0" y="-2.4" width="63.7" height="4.8" fill="url(#thinV)" transform="translate(485 51.6) rotate(90.2)"/>
<ellipse cx="866.1" cy="610.6" rx="22.5" ry="2.7" fill="#5a5a5a"/>
<rect x="0" y="-4.3" width="175.8" height="8.6" fill="url(#bar)" transform="translate(136.4 587.7) rotate(1.4)"/><rect x="0" y="-4.6" width="21.1" height="9.2" fill="url(#barD)" transform="translate(136.4 587.7) rotate(1.4)"/><rect x="0" y="-4.6" width="24.6" height="9.2" fill="url(#barD)" transform="translate(287.6 591.3) rotate(1.4)"/>
<rect x="0" y="-2.4" width="107.7" height="4.7" fill="url(#thin)" transform="translate(428 72.9) rotate(-3.5)"/>
<rect x="0" y="-2.7" width="343.1" height="5.5" fill="url(#thin)" transform="translate(314.6 126.1) rotate(-3.1)"/>
<rect x="0" y="-5.5" width="205.9" height="11.1" fill="url(#gbarR)" transform="translate(660.2 600.1) rotate(1.4)"/><rect x="0" y="-5.8" width="20.6" height="11.7" fill="url(#gbarRD)" transform="translate(660.2 600.1) rotate(1.4)"/><rect x="0" y="-5.8" width="24.7" height="11.7" fill="url(#gbarRD)" transform="translate(841.3 604.3) rotate(1.4)"/>
<rect x="0" y="-5.8" width="332.9" height="11.6" fill="url(#rafFL)" transform="translate(158.3 199.3) rotate(-25.1)"/><rect x="0" y="-6.1" width="57" height="12.2" fill="url(#rafD)" transform="translate(302.4 131.8) rotate(-25.1)"/>
<rect x="0" y="-6.5" width="352.8" height="13" fill="url(#rafF)" transform="translate(503.1 55.3) rotate(18.8)"/><rect x="0" y="-6.8" width="63.4" height="13.6" fill="url(#rafRD)" transform="translate(616 93.7) rotate(18.8)"/>
<rect x="0" y="-5.7" width="372.5" height="11.5" fill="url(#post)" transform="translate(138.7 219.7) rotate(90.4)"/><rect x="0" y="-5.7" width="372.5" height="11.5" fill="url(#shade)" transform="translate(138.7 219.7) rotate(90.4)"/><rect x="0" y="-6" width="19.9" height="12.1" fill="url(#postT)" transform="translate(138.7 219.7) rotate(90.4)"/>
<rect x="0" y="-5.8" width="15.1" height="11.5" fill="url(#postD)" transform="translate(136.5 577.2) rotate(90.4)"/>
<rect x="0" y="-6.7" width="418.8" height="13.5" fill="url(#post)" transform="translate(865.6 191.2) rotate(89.9)"/><rect x="0" y="-6.7" width="418.8" height="13.5" fill="url(#shade)" transform="translate(865.6 191.2) rotate(89.9)"/><rect x="0" y="-7" width="35.8" height="14.1" fill="url(#postL)" transform="translate(865.6 191.2) rotate(89.9)"/>
<rect x="0" y="-6.7" width="17" height="13.5" fill="url(#postM)" transform="translate(866 593) rotate(89.9)"/>
<g transform="translate(137.1 477.2) rotate(90.4)"><rect x="0" y="-6.3" width="22.6" height="12.7" fill="url(#sleeve)"/><rect x="0" y="-6.3" width="22.6" height="12.7" fill="#000" opacity="0.1"/><rect x="0" y="-6.3" width="0.9" height="12.7" fill="#8a8a8a"/><rect x="21.7" y="-6.3" width="0.9" height="12.7" fill="#8a8a8a"/></g>
<g transform="translate(865.9 480.6) rotate(89.9)"><rect x="0" y="-7.1" width="25.4" height="14.1" fill="url(#sleeve)"/><rect x="0" y="-7.1" width="25.4" height="14.1" fill="#000" opacity="0.1"/><rect x="0" y="-7.1" width="0.9" height="14.1" fill="#8a8a8a"/><rect x="24.5" y="-7.1" width="0.9" height="14.1" fill="#8a8a8a"/></g>
<rect x="0" y="-5" width="54.8" height="10.1" fill="url(#post)" transform="translate(315.6 134.8) rotate(90.3)"/>
<rect x="0" y="-6.3" width="406.9" height="12.6" fill="url(#post)" transform="translate(315.4 189.7) rotate(90.6)"/><rect x="0" y="-6.3" width="406.9" height="12.6" fill="url(#shade)" transform="translate(315.4 189.7) rotate(90.6)"/><rect x="0" y="-6.6" width="14" height="13.2" fill="url(#postD)" transform="translate(310.9 582.5) rotate(90.6)"/>
<rect x="0" y="-5.3" width="67.5" height="10.6" fill="url(#post)" transform="translate(663 119.4) rotate(90.1)"/>
<rect x="0" y="-6.7" width="418.1" height="13.4" fill="url(#post)" transform="translate(662.9 186.9) rotate(90.4)"/><rect x="0" y="-6.7" width="418.1" height="13.4" fill="url(#shade)" transform="translate(662.9 186.9) rotate(90.4)"/><rect x="0" y="-7" width="14.4" height="14" fill="url(#postD)" transform="translate(660.3 590.6) rotate(90.4)"/>
<rect x="0" y="-5.4" width="12.3" height="10.8" fill="url(#postD)" transform="translate(315.6 128.7) rotate(90.3)"/>
<g transform="translate(312.7 478) rotate(90.3)"><rect x="0" y="-6.9" width="24.5" height="13.9" fill="url(#sleeve)"/><rect x="0" y="-6.9" width="24.5" height="13.9" fill="#000" opacity="0.1"/><rect x="0" y="-6.9" width="0.9" height="13.9" fill="#8a8a8a"/><rect x="23.6" y="-6.9" width="0.9" height="13.9" fill="#8a8a8a"/></g>
<rect x="0" y="-5.7" width="13" height="11.4" fill="url(#postD)" transform="translate(663 112.9) rotate(90.1)"/>
<g transform="translate(660.3 479.7) rotate(90.1)"><rect x="0" y="-7.3" width="25.9" height="14.6" fill="url(#sleeve)"/><rect x="0" y="-7.3" width="25.9" height="14.6" fill="#000" opacity="0.1"/><rect x="0" y="-7.3" width="0.9" height="14.6" fill="#8a8a8a"/><rect x="25" y="-7.3" width="0.9" height="14.6" fill="#8a8a8a"/></g>
<path d="M138.6 241.5 L138.7 219 Q138.8 207 151.8 202.4 L162.2 197.5" fill="none" stroke="#404040" stroke-width="11.5" stroke-linejoin="round" transform="translate(0 0)"/><path d="M138.6 241.5 L138.7 219 Q138.8 207 151.8 202.4 L162.2 197.5" fill="none" stroke="#6a6a6a" stroke-width="8.2" stroke-linejoin="round" transform="translate(0 0)"/><path d="M138.6 241.5 L138.7 219 Q138.8 207 151.8 202.4 L162.2 197.5" fill="none" stroke="#a8a8a8" stroke-width="2.3" stroke-linejoin="round" transform="translate(-1.4 -1.4)"/>
<path d="M441.8 66.4 L463.3 56.3 Q481.4 46.3 499.5 54 L522.1 61.7" fill="none" stroke="#404040" stroke-width="12.6" stroke-linejoin="round" transform="translate(0 0)"/><path d="M441.8 66.4 L463.3 56.3 Q481.4 46.3 499.5 54 L522.1 61.7" fill="none" stroke="#686868" stroke-width="9.1" stroke-linejoin="round" transform="translate(0 0)"/><path d="M441.8 66.4 L463.3 56.3 Q481.4 46.3 499.5 54 L522.1 61.7" fill="none" stroke="#a4a4a4" stroke-width="2.5" stroke-linejoin="round" transform="translate(0 -2)"/>
<path d="M865.6 220.7 L865.6 187.9 Q865.6 175.2 850.1 173.3 L816.9 162" fill="none" stroke="#505050" stroke-width="14" stroke-linejoin="round" transform="translate(0 0)"/><path d="M865.6 220.7 L865.6 187.9 Q865.6 175.2 850.1 173.3 L816.9 162" fill="none" stroke="#b8b8b8" stroke-width="10.4" stroke-linejoin="round" transform="translate(1.4 -1.4)"/><path d="M865.6 220.7 L865.6 187.9 Q865.6 175.2 850.1 173.3 L816.9 162" fill="none" stroke="#e4e4e4" stroke-width="4.2" stroke-linejoin="round" transform="translate(1.1 -2)"/>
<circle cx="879.2" cy="183.7" r="4.3" fill="#585858" stroke="#404040" stroke-width="1.3"/><circle cx="879.7" cy="182.9" r="1.5" fill="#909090"/>
</g>
<g id="overlay">
<line x1="60.5" y1="53.5" x2="60.5" y2="299" stroke="#444444" stroke-width="5"/><polygon points="60.5,39.5 53,55 68,55" fill="#444444"/>
<line x1="60.5" y1="339" x2="60.5" y2="581.5" stroke="#444444" stroke-width="5"/><polygon points="60.5,595.5 53,580 68,580" fill="#444444"/>
<rect x="16.5" y="303" width="88" height="34" rx="17" fill="#ffffff"/>
<text x="60.5" y="327.5" text-anchor="middle" font-size="24.6" fill="#333333">3,59 m</text>
<line x1="1347.5" y1="296.9" x2="1347.5" y2="392.5" stroke="#444444" stroke-width="5"/><polygon points="1347.5,283 1340,298.5 1355,298.5" fill="#444444"/>
<line x1="1347.5" y1="434.5" x2="1347.5" y2="530.5" stroke="#444444" stroke-width="5"/><polygon points="1347.5,544.5 1340,529 1355,529" fill="#444444"/>
<rect x="1307.5" y="396.5" width="80" height="34" rx="17" fill="#ffffff"/>
<text x="1347.5" y="421" text-anchor="middle" font-size="24.6" fill="#333333">2,5 m</text>
<line x1="131.4" y1="636.4" x2="439.5" y2="645.4" stroke="#444444" stroke-width="5"/><polygon points="117.5,636 132.8,643.9 133.2,629" fill="#444444"/>
<line x1="532" y1="648.1" x2="841.1" y2="657.1" stroke="#444444" stroke-width="5"/><polygon points="855,657.5 839.3,664.5 839.7,649.6" fill="#444444"/>
<rect x="455" y="626.5" width="62" height="34" rx="17" fill="#ffffff"/>
<text x="486" y="651" text-anchor="middle" font-size="24.6" fill="#333333">6 m</text>
<line x1="911.2" y1="652.9" x2="1059" y2="625.3" stroke="#444444" stroke-width="5"/><polygon points="897.5,655.5 914.1,660 911.4,645.3" fill="#444444"/>
<line x1="1146" y1="609" x2="1292.3" y2="581.6" stroke="#444444" stroke-width="5"/><polygon points="1306,579 1292.1,589.2 1289.4,574.5" fill="#444444"/>
<rect x="1063.5" y="596.5" width="74" height="34" rx="17" fill="#ffffff"/>
<text x="1100.5" y="621" text-anchor="middle" font-size="24.6" fill="#333333">28 m</text>
<line x1="268.5" y1="168.9" x2="268.5" y2="355.5" stroke="#d30a0a" stroke-width="5"/><polygon points="268.5,155 261.2,170.5 275.8,170.5" fill="#d30a0a"/>
<line x1="268.5" y1="395" x2="268.5" y2="578" stroke="#d30a0a" stroke-width="5"/><polygon points="268.5,592 261.2,576.5 275.8,576.5" fill="#d30a0a"/>
<rect x="227.3" y="358.2" width="83" height="33" rx="16.5" fill="#ffffff"/>
<text x="268.8" y="382" text-anchor="middle" font-size="20" fill="#d30a0a">2,92 m</text>
<line x1="342.9" y1="576.4" x2="434" y2="578.8" stroke="#d30a0a" stroke-width="5"/><polygon points="329,576 344.3,583.7 344.7,569.2" fill="#d30a0a"/>
<line x1="525.5" y1="581.2" x2="616.1" y2="583.6" stroke="#d30a0a" stroke-width="5"/><polygon points="630,584 614.3,590.8 614.7,576.3" fill="#d30a0a"/>
<rect x="435.5" y="561.2" width="88" height="33" rx="16.5" fill="#ffffff"/>
<text x="479.5" y="585" text-anchor="middle" font-size="20" fill="#d30a0a">2,77 m</text>
<circle cx="232" cy="164.5" r="17" fill="#2e2e2e"/><text x="232" y="171.6" text-anchor="middle" font-size="20" fill="#ffffff" stroke="#ffffff" stroke-width="0.5">1</text>
<circle cx="325.8" cy="122.8" r="17" fill="#2e2e2e"/><text x="325.8" y="129.8" text-anchor="middle" font-size="20" fill="#ffffff" stroke="#ffffff" stroke-width="0.5">2</text>
<circle cx="483.8" cy="92" r="17" fill="#2e2e2e"/><text x="483.8" y="99.1" text-anchor="middle" font-size="20" fill="#ffffff" stroke="#ffffff" stroke-width="0.5">3</text>
<circle cx="865" cy="476" r="17" fill="#2e2e2e"/><text x="865" y="483.1" text-anchor="middle" font-size="20" fill="#ffffff" stroke="#ffffff" stroke-width="0.5">4</text>
<circle cx="663" cy="426.8" r="17" fill="#2e2e2e"/><text x="663" y="433.9" text-anchor="middle" font-size="20" fill="#ffffff" stroke="#ffffff" stroke-width="0.5">5</text>
<circle cx="756.2" cy="601.8" r="17" fill="#2e2e2e"/><text x="756.2" y="608.9" text-anchor="middle" font-size="20" fill="#ffffff" stroke="#ffffff" stroke-width="0.5">6</text>
<circle cx="864.2" cy="604.5" r="17" fill="#2e2e2e"/><text x="864.2" y="611.6" text-anchor="middle" font-size="20" fill="#ffffff" stroke="#ffffff" stroke-width="0.5">7</text>
</g>
</svg>
</body></html>
